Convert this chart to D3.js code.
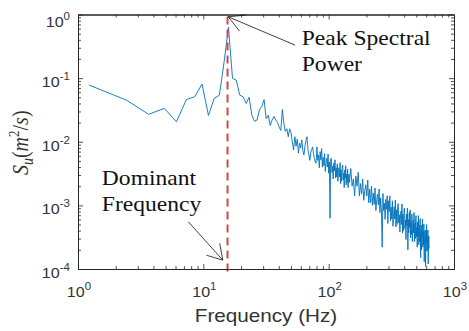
<!DOCTYPE html>
<html><head><meta charset="utf-8">
<script src="https://cdn.jsdelivr.net/npm/d3@7"></script>
<style>body{margin:0;background:#fff}svg{display:block}</style>
</head><body><svg id="c" width="469" height="331"></svg>
<script>
// frequency resolution of the spectrum (Hz per bin)
const df = 1.2207;
// PSD values, bins 1..100
const psdLow = [.078,.045,.027,.0335,.0206,.046,.051,.081,.026,.048,
.054,.18,.63,.099,.093,.054,.051,.040,.050,.026,
.021,.022,.032,.036,.046,.023,.026,.018,.022,.025,
.022,.020,.017,.015,.032,.019,.0145,.016,.012,.016,
.014,.010,.0074,.012,.0085,.011,.0066,.0095,.008,.0107,
.0072,.0062,.0085,.0105,.012,.0075,.0062,.0051,.0068,.0075,
.0083,.0065,.0055,.0048,.0046,.0083,.0051,.0062,.0039,.0070,
.0052,.0078,.0040,.0057,.0042,.0065,.0034,.0047,.0055,.0040,
.0064,.0032,.0048,.00063,.0053,.0055,.0033,.0041,.0026,.0046,
.0035,.0052,.0027,.0039,.0028,.0045,.0024,.0033,.0039,.0028];
// bins 101..120
const psdMid = [.0047,.0022,.0036,.0024,.0040,.0043,.0025,.0032,.0019,.0036,
.0027,.0042,.0021,.0031,.0023,.0037,.0019,.0027,.0031,.0023];
// every third bin from 123 to 519
const psdHigh = [.0038,.0020,.0026,.0014,.0029,.0020,.0033,.0014,.0022,.0015,
.0026,.0012,.0017,.0021,.0014,.0025,.0011,.0018,.0011,.0020,
.0010,.00156,.00104,.00187,.00083,.00123,.00151,.00102,.0018,.00077,
.00131,.00081,.00022,.00154,.00083,.00108,.0006,.00124,.00087,.00142,
.00052,.00118,.0008,.00141,.00057,.00094,.00061,.00118,.00047,.00074,
.00095,.00061,.00121,.00046,.00085,.0005,.00097,.00106,.00053,.00071,
.00038,.00062,.00081,.0005,.00105,.00037,.00072,.0004,.00083,.00091,
.00043,.00059,.00029,.00073,.00048,.00091,.0002,.0006,.00037,.00077,
.00045,.00085,.00031,.00056,.00035,.00073,.00027,.00045,.00059,.00037,
.00077,.00027,.00053,.0003,.00062,.00069,.00032,.00045,.00022,.00055,
.00033,.00069,.00024,.00048,.00027,.00056,.00062,.00015,.0004,.0002,
.00049,.00032,.00061,.00022,.00039,.00024,.00051,.00013,.00031,.0004,
.00034,.00011,.00041,.00026,.0005,.00019,.00032,.0002,.00041,.00012,
.00026,.00033,.00021];
const xTicks = [1,10,100,1000];
const yTicks = [1e-4,1e-3,1e-2,1e-1,1];
const dominantFreq = 15.6;
const lineBottom = 7.6e-5;
// annotations: [freq, value] anchors
const peakArrow = {tip:[15.8,0.92], tail:[54,0.33]};
const domArrow = {tip:[14.3,1.38e-4], tail:[7.6,5.5e-4]};
const peakText = {at:[61,0.33], lines:["Peak Spectral","Power"]};
const domText = {at:[1.55,2.1e-3], lines:["Dominant","Frequency"]};

const M = {l:78, r:454, t:14.5, b:269};
const SX = 1.15; // horizontal text stretch of the original figure
const x = d3.scaleLog().domain([1,1000]).range([M.l,M.r]);
const y = d3.scaleLog().domain([1e-4,1]).range([M.b,M.t]);
const svg = d3.select("#c");
svg.append("rect").attr("width",469).attr("height",331).attr("fill","#fff");

const pts = [];
psdLow.forEach((v,i)=>pts.push([(i+1)*df, v]));
psdMid.forEach((v,i)=>pts.push([(i+101)*df, v]));
psdHigh.forEach((v,i)=>pts.push([(123+3*i)*df, v]));

svg.append("path").datum(pts)
  .attr("d", d3.line().x(d=>x(d[0])).y(d=>y(d[1])))
  .attr("fill","none").attr("stroke","#0072BD").attr("stroke-width",0.9)
  .attr("stroke-linejoin","round");

svg.append("line")
  .attr("x1",x(dominantFreq)).attr("x2",x(dominantFreq))
  .attr("y1",y(1)+2).attr("y2",y(lineBottom))
  .attr("stroke","#d2454a").attr("stroke-width",2).attr("stroke-dasharray","8,5");

// axes
const axisColor = "#262626";
const minorX = x.ticks().filter(v=>!xTicks.includes(v));
const minorY = y.ticks().filter(v=>!yTicks.some(t=>Math.abs(t-v)/v<1e-6));
function styleAxis(g){
  g.select(".domain").attr("stroke",axisColor).attr("stroke-width",1);
  g.selectAll(".tick line").attr("stroke",axisColor).attr("stroke-width",0.8);
}
[[d3.axisBottom,M.b],[d3.axisTop,M.t]].forEach(([ax,pos])=>{
  svg.append("g").attr("transform",`translate(0,${pos})`)
    .call(ax(x).tickValues(minorX).tickSize(-3).tickSizeOuter(0).tickFormat(""))
    .call(styleAxis);
  svg.append("g").attr("transform",`translate(0,${pos})`)
    .call(ax(x).tickValues(xTicks).tickSize(-5).tickSizeOuter(0).tickFormat(""))
    .call(styleAxis);
});
[[d3.axisLeft,M.l],[d3.axisRight,M.r]].forEach(([ax,pos])=>{
  svg.append("g").attr("transform",`translate(${pos},0)`)
    .call(ax(y).tickValues(minorY).tickSize(-3).tickSizeOuter(0).tickFormat(""))
    .call(styleAxis);
  svg.append("g").attr("transform",`translate(${pos},0)`)
    .call(ax(y).tickValues(yTicks).tickSize(-5).tickSizeOuter(0).tickFormat(""))
    .call(styleAxis);
});

const sans = "'Liberation Sans', Arial, Helvetica, sans-serif";
const serif = "'Liberation Serif', 'Times New Roman', serif";
const labColor = "#333";
function txt(px,py,extra){
  return svg.append("text").attr("transform",`translate(${px},${py}) scale(${SX},1)${extra||""}`);
}
function powLabel(sel, v){
  sel.append("tspan").text("10");
  sel.append("tspan").attr("font-size",10).attr("dy",-7).text(Math.round(Math.log10(v)));
}
xTicks.forEach(v=>{
  const t = txt(x(v)+1,297).attr("text-anchor","middle").attr("font-family",sans)
    .attr("font-size",14).attr("fill",labColor);
  powLabel(t,v);
});
yTicks.forEach(v=>{
  const t = txt(M.l-8, y(v)+(v===1?12:9)).attr("text-anchor","end").attr("font-family",sans)
    .attr("font-size",14).attr("fill",labColor);
  powLabel(t,v);
});

txt((M.l+M.r)/2, 322).attr("text-anchor","middle")
  .attr("font-family",sans).attr("font-size",18).attr("fill",labColor).text("Frequency (Hz)");

const yl = txt(28,(M.t+M.b)/2+1," rotate(-90)")
  .attr("text-anchor","middle").attr("font-family",serif).attr("font-size",20)
  .attr("font-style","italic").attr("fill",labColor);
yl.append("tspan").text("S");
yl.append("tspan").attr("font-size",14).attr("dy",4).text("u");
yl.append("tspan").attr("dy",-4).attr("font-style","normal").text("(");
yl.append("tspan").text("m");
yl.append("tspan").attr("font-size",13).attr("dy",-8).attr("font-style","normal").text("2");
yl.append("tspan").attr("dy",8).attr("font-style","normal").text("/");
yl.append("tspan").text("s");
yl.append("tspan").attr("font-style","normal").text(")");

// annotations
function arrow(a, len, ang){
  const tx=x(a.tip[0]), ty=y(a.tip[1]), sx=x(a.tail[0]), sy=y(a.tail[1]);
  svg.append("line").attr("x1",sx).attr("y1",sy).attr("x2",tx).attr("y2",ty)
    .attr("stroke","#111").attr("stroke-width",0.8);
  const th=Math.atan2(sy-ty,sx-tx);
  const p1=[tx+len*Math.cos(th+ang), ty+len*Math.sin(th+ang)];
  const p2=[tx+len*Math.cos(th-ang), ty+len*Math.sin(th-ang)];
  svg.append("path").attr("d",`M${p1}L${tx},${ty}L${p2}`).attr("fill","none")
    .attr("stroke","#111").attr("stroke-width",0.8);
}
arrow(peakArrow,18,0.5);
arrow(domArrow,17,0.55);
function note(n){
  n.lines.forEach((s,i)=>{
    txt(x(n.at[0]), y(n.at[1])+i*26)
      .attr("font-family",serif).attr("font-size",20.5).attr("fill","#111").text(s);
  });
}
note(peakText);
note(domText);
</script></body></html>
